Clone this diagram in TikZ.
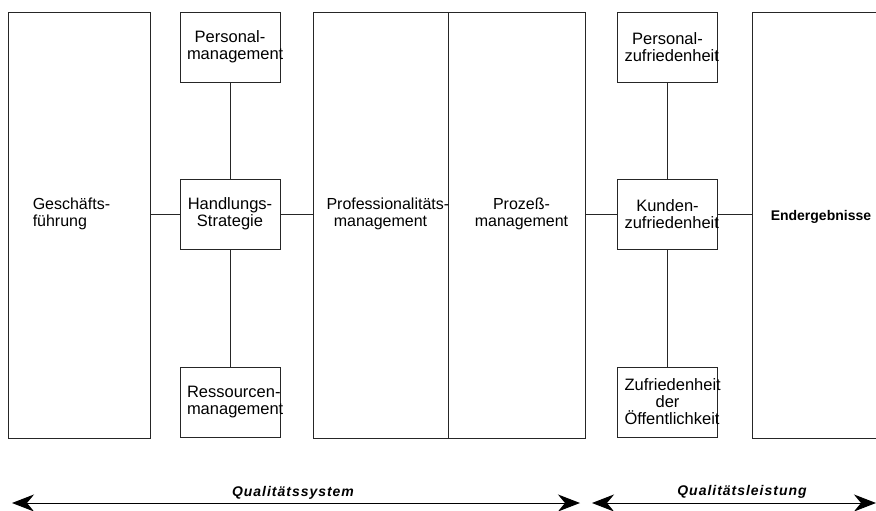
\documentclass[tikz,border=0pt]{standalone}
\usepackage{fontspec}
\setmainfont{Liberation Sans}
\newfontfamily\spacedfont[LetterSpace=7]{Liberation Sans}
\usetikzlibrary{arrows.meta,positioning}
\tikzset{
  box/.style={draw=black!85,line width=.9pt,minimum width=100pt,minimum height=70pt,
    text width=86pt,inner xsep=7pt,align=center,font=\fontsize{16.5}{17}\selectfont},
  bigbox/.style={draw=black!85,line width=.9pt,minimum height=426pt},
  lbl/.style={inner sep=0pt,font=\fontsize{16}{17}\selectfont},
  link/.style={draw=black!85,line width=.9pt},
  spanarrow/.style={line width=1pt,
    {Stealth[length=22pt,width=17pt,inset=7pt]}-{Stealth[length=22pt,width=17pt,inset=7pt]}},
  spanlbl/.style={inner sep=0pt,font=\spacedfont\bfseries\itshape\fontsize{14}{16}\selectfont}
}
\begin{document}
\begin{tikzpicture}[x=1pt,y=-1pt]
\useasboundingbox (0,0) rectangle (876,511);
\clip (0,0) rectangle (876,511);
%big boxes
\node[bigbox,minimum width=142pt] (gf) at (79,225) {};
\node[bigbox,minimum width=135pt] (pf) at (380.5,225) {};
\node[bigbox,minimum width=137pt] (pz) at (516.5,225) {};
\node[bigbox,minimum width=200pt] (eg) at (852,225) {};
%small boxes
\node[box] (hs) at (230,214) {\mbox{Handlungs-}\\Strategie};
\node[box] (pm) at (230,47) {\mbox{Personal-}\\management};
\node[box] (rm) at (230,402) {\mbox{Ressourcen-}\\management};
\node[box] (kz) at (667.5,214) {\mbox{Kunden-}\\zufriedenheit};
\node[box] (pzf) at (667.5,47) {\mbox{Personal-}\\zufriedenheit};
\node[box] (zo) at (667.5,402) {Zufriedenheit\\der\\Öffentlichkeit};
%connectors
\draw[link] (gf.east |- hs.west) -- (hs.west);
\draw[link] (hs.east) -- (hs.east -| pf.west);
\draw[link] (pm) -- (hs);
\draw[link] (hs) -- (rm);
\draw[link] (pz.east |- kz.west) -- (kz.west);
\draw[link] (kz.east) -- (kz.east -| eg.west);
\draw[link] (pzf) -- (kz);
\draw[link] (kz) -- (zo);
%texts in the big boxes
\node[lbl,anchor=west,align=left,xshift=25pt] (gf-t) at (gf.west |- hs) {\mbox{Geschäfts-}\\führung};
\node[lbl,text width=108pt,align=center] (pf-t) at (pf.center |- hs) {\mbox{Professionalitäts-}\\management};
\node[lbl,align=center,xshift=5pt] (pz-t) at (pz.center |- hs) {\mbox{Prozeß-}\\management};
\node[lbl,anchor=west,xshift=19pt,yshift=-3pt,font=\bfseries\fontsize{14}{16}\selectfont] (eg-t) at (eg.west |- hs) {Endergebnisse};
%span arrows
\coordinate (qs-a) at (12,503);
\coordinate (qs-b) at (580,503);
\coordinate (ql-a) at (592,503);
\coordinate (ql-b) at (876,503);
\draw[spanarrow] (qs-a) -- (qs-b);
\draw[spanarrow] (ql-a) -- (ql-b);
\node[spanlbl,anchor=base] (qs-t) at (293,496) {Qualitätssystem};
\node[spanlbl,anchor=base] (ql-t) at (742,495) {Qualitätsleistung};
\end{tikzpicture}
\end{document}
